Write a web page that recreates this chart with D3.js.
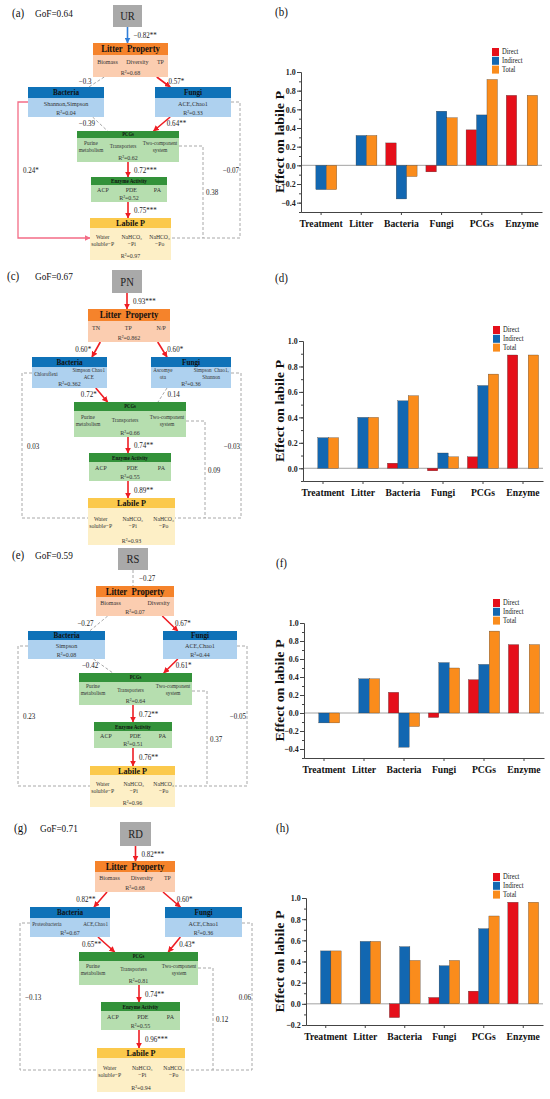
<!DOCTYPE html>
<html>
<head>
<meta charset="utf-8">
<script src="https://cdn.jsdelivr.net/npm/d3@7"></script>
<style>
  body { margin: 0; background: #fff; }
</style>
</head>
<body>
<div id="fig"></div>
<script>
// ---------- data ----------
var categories = ["Treatment", "Litter", "Bacteria", "Fungi", "PCGs", "Enzyme"];
var effectTypes = ["Direct", "Indirect", "Total"];

var directUR   = [0, 0, 0.24, -0.07, 0.38, 0.75];
var indirectUR = [-0.26, 0.32, -0.36, 0.58, 0.54, 0];
var totalUR    = [-0.26, 0.32, -0.12, 0.51, 0.92, 0.75];

var directPN   = [0, 0, 0.04, -0.02, 0.09, 0.89];
var indirectPN = [0.24, 0.40, 0.53, 0.12, 0.65, 0];
var totalPN    = [0.24, 0.40, 0.57, 0.09, 0.74, 0.89];

var directRS   = [0, 0, 0.23, -0.05, 0.37, 0.76];
var indirectRS = [-0.11, 0.38, -0.38, 0.56, 0.54, 0];
var totalRS    = [-0.11, 0.38, -0.15, 0.50, 0.91, 0.76];

var directRD   = [0, 0, -0.13, 0.06, 0.12, 0.96];
var indirectRD = [0.50, 0.59, 0.54, 0.36, 0.71, 0];
var totalRD    = [0.50, 0.59, 0.41, 0.41, 0.83, 0.96];

var treatments = ["UR", "PN", "RS", "RD"];
var gofValues = ["0.64", "0.67", "0.59", "0.71"];

// path coefficients, in order: treatment->litter, litter->bacteria, litter->fungi,
// bacteria->PCGs, fungi->PCGs, PCGs->enzyme, enzyme->labile P,
// bacteria->labile P, fungi->labile P, PCGs->labile P
var pathsUR = ["−0.82**", "−0.3", "0.57*", "−0.39", "0.64**", "0.72***", "0.75***", "0.24*", "−0.07", "0.38"];
var pathsPN = ["0.93***", "0.60*", "0.60*", "0.72*", "0.14", "0.74**", "0.89**", "0.03", "−0.03", "0.09"];
var pathsRS = ["−0.27", "−0.27", "0.67*", "−0.42", "0.61*", "0.72**", "0.76**", "0.23", "−0.05", "0.37"];
var pathsRD = ["0.82***", "0.82**", "0.60*", "0.65**", "0.43*", "0.74**", "0.96***", "−0.13", "0.06", "0.12"];

// R2 of litter, bacteria, fungi, PCGs, enzyme, labile P
var r2UR = ["0.68", "0.04", "0.33", "0.62", "0.52", "0.97"];
var r2PN = ["0.862", "0.362", "0.36", "0.66", "0.55", "0.93"];
var r2RS = ["0.07", "0.08", "0.44", "0.64", "0.51", "0.96"];
var r2RD = ["0.68", "0.67", "0.36", "0.81", "0.55", "0.94"];

var litterItems = [["Biomass", "Diversity", "TP"], ["TN", "TP", "N/P"], ["Biomass", "Diversity"], ["Biomass", "Diversity", "TP"]];
var bacteriaItems = [["Shannon,Simpson"], ["Chloroflexi", "Simpson Chao1\nACE"], ["Simpson"], ["Proteobacteria", "ACE,Chao1"]];
var fungiItems = [["ACE,Chao1"], ["Ascomye\nota", "Simpson  Chao1,\nShannon"], ["ACE,Chao1"], ["ACE,Chao1"]];
var pcgItems = ["Purine\nmetabolism", "Transporters", "Two-component\nsystem"];
var enzymeItems = ["ACP", "PDE", "PA"];
var labileItems = ["Water\nsoluble−P", "NaHCO₃\n−Pi", "NaHCO₃\n−Po"];

// ---------- layout ----------
var diagramTags = ["a", "c", "e", "g"];
var barTags = ["b", "d", "f", "h"];

// boxes: [x, y, width, headerHeight, bodyHeight]; treat: [x, y, w, h]
var diagramLayouts = [
  { tag: [12, 17], gof: [35, 16.5], treat: [113, 5, 29, 22], litter: [93, 43, 75, 12, 22],
    bact: [28, 87, 76, 11, 19], fungi: [155, 87, 76, 11, 19], pcg: [77, 131, 102, 7, 24],
    enz: [91, 177, 76, 8, 17], lab: [90, 218, 81, 10, 32], cx: 128,
    leftX: 18, rightX: 240, pcgX: 203, bottomY: 238, sideY: 102, pcgY: 146 },
  { tag: [7, 280], gof: [35, 279.5], treat: [112, 270, 30, 23], litter: [88, 309, 82, 12, 21],
    bact: [32, 357, 75, 10, 21], fungi: [151, 357, 80, 10, 21], pcg: [74, 402, 112, 9, 26],
    enz: [89, 453, 82, 9, 19], lab: [88, 498, 87, 10, 37], cx: 128,
    leftX: 22, rightX: 241, pcgX: 205, bottomY: 518, sideY: 373, pcgY: 421 },
  { tag: [12, 559], gof: [35, 558.5], treat: [118, 548, 30, 22], litter: [96, 586, 78, 11, 19],
    bact: [28, 631, 77, 9, 19], fungi: [163, 631, 74, 9, 19], pcg: [79, 673, 113, 9, 23],
    enz: [94, 722, 78, 9, 17], lab: [90, 766, 85, 9, 32], cx: 133,
    leftX: 18, rightX: 247, pcgX: 207, bottomY: 786, sideY: 646, pcgY: 691 },
  { tag: [14, 832], gof: [40, 831.5], treat: [120, 822, 31, 24], litter: [95, 861, 80, 11, 20],
    bact: [30, 907, 80, 11, 19], fungi: [165, 907, 77, 11, 19], pcg: [79, 952, 119, 9, 24],
    enz: [101, 1002, 79, 9, 19], lab: [97, 1048, 88, 10, 34], cx: 139,
    leftX: 20, rightX: 252, pcgX: 213, bottomY: 1070, sideY: 923, pcgY: 968 }
];

var barLayouts = [
  { left: 301, right: 542, top: 72, bottom: 212, yMin: -0.5, tag: [275, 16], legend: [492, 48] },
  { left: 303, right: 543, top: 341, bottom: 481, yMin: -0.1, tag: [275, 282], legend: [493, 326] },
  { left: 304, right: 544, top: 623, bottom: 758, yMin: -0.5, tag: [276, 567], legend: [493, 599] },
  { left: 306, right: 543, top: 898, bottom: 1025, yMin: -0.2, tag: [276, 832], legend: [493, 873] }
];

var barColors = ["#e50f1a", "#1267b1", "#fa8c1c"];
var SX = 0.88; // the source figure is squeezed horizontally

var svg = d3.select("#fig").append("svg")
  .attr("width", 550)
  .attr("height", 1099)
  .attr("font-family", "'Liberation Serif', 'Times New Roman', serif");

svg.append("rect").attr("width", 550).attr("height", 1099).attr("fill", "#fff");

var defs = svg.append("defs");
function marker(id, color) {
  defs.append("marker")
    .attr("id", id)
    .attr("viewBox", "0 0 10 10")
    .attr("refX", 9).attr("refY", 5)
    .attr("markerWidth", 6).attr("markerHeight", 6)
    .attr("markerUnits", "userSpaceOnUse")
    .attr("orient", "auto")
    .append("path").attr("d", "M0,0L10,5L0,10z").attr("fill", color);
}
marker("head-red", "#ee1d23");
marker("head-blue", "#2f7ed8");
marker("head-pink", "#f36c86");

function addText(g, x, y, str, size, opt) {
  opt = opt || {};
  return g.append("text")
    .attr("transform", "translate(" + x + "," + y + ")" +
      (opt.rotate ? " rotate(-90) scale(1," + SX + ")" : " scale(" + SX + ",1)"))
    .attr("font-size", size)
    .attr("text-anchor", opt.anchor || "start")
    .attr("font-weight", opt.bold ? "bold" : null)
    .attr("fill", opt.color || "#111")
    .style("white-space", "pre")
    .text(str);
}

// body items spread across the box like justified text
function bodyItems(g, b, items, pad, size) {
  var top = b.y + b.hh, bottom = top + b.bh;
  var center = (top + bottom - 8) / 2;
  var parts = items.map(function(s) {
    var lines = s.split("\n");
    var t = g.append("text")
      .attr("font-size", size)
      .attr("text-anchor", "middle")
      .attr("fill", "#333")
      .style("white-space", "pre");
    lines.forEach(function(l, i) {
      t.append("tspan").attr("x", 0)
        .attr("y", center + size * 0.35 + (i - (lines.length - 1) / 2) * 7)
        .text(l);
    });
    return { t: t, w: t.node().getBBox().width * SX };
  });
  if (parts.length === 1) {
    parts[0].t.attr("transform", "translate(" + (b.x + b.w / 2) + ",0) scale(" + SX + ",1)");
    return;
  }
  var total = d3.sum(parts, function(p) { return p.w; });
  var gap = (b.w - 2 * pad - total) / (parts.length - 1);
  var cursor = b.x + pad;
  parts.forEach(function(p) {
    p.t.attr("transform", "translate(" + (cursor + p.w / 2) + ",0) scale(" + SX + ",1)");
    cursor += p.w + gap;
  });
}

function drawBox(g, b, title, titleSize, headFill, bodyFill, items, r2, pad, itemSize) {
  g.append("rect").attr("x", b.x).attr("y", b.y + b.hh).attr("width", b.w).attr("height", b.bh).attr("fill", bodyFill);
  g.append("rect").attr("x", b.x).attr("y", b.y).attr("width", b.w).attr("height", b.hh).attr("fill", headFill);
  addText(g, b.x + b.w / 2, b.y + b.hh / 2 + titleSize * 0.35, title, titleSize, { anchor: "middle", bold: true });
  bodyItems(g, b, items, pad, itemSize);
  addText(g, b.x + b.w / 2, b.y + b.hh + b.bh - 2, "R²=" + r2, 6.8, { anchor: "middle", color: "#333" });
}

function pathStyle(label, isLong) {
  if (label.indexOf("*") < 0) return { color: "#a8a8a8", width: 1, dash: "3,2", head: null };
  if (isLong) return { color: "#f36c86", width: 1.3, dash: null, head: "head-pink" };
  if (label.charAt(0) === "−") return { color: "#2f7ed8", width: 1.6, dash: null, head: "head-blue" };
  return { color: "#ee1d23", width: 1.6, dash: null, head: "head-red" };
}

function drawDiagram(k, paths, r2) {
  var L = diagramLayouts[k];
  var g = svg.append("g");
  function bx(a) { return { x: a[0], y: a[1], w: a[2], hh: a[3], bh: a[4] }; }
  var Li = bx(L.litter), Ba = bx(L.bact), Fu = bx(L.fungi), Pc = bx(L.pcg), En = bx(L.enz), La = bx(L.lab);
  var T = { x: L.treat[0], y: L.treat[1], w: L.treat[2], h: L.treat[3] };
  function bot(b) { return b.y + b.hh + b.bh; }
  var tcx = T.x + T.w / 2;

  var geo = [
    [[tcx, T.y + T.h], [tcx, Li.y]],
    [[Li.x + 0.15 * Li.w, bot(Li)], [Ba.x + 0.8 * Ba.w, Ba.y]],
    [[Li.x + 0.85 * Li.w, bot(Li)], [Fu.x + 0.2 * Fu.w, Fu.y]],
    [[Ba.x + 0.85 * Ba.w, bot(Ba)], [Pc.x + 0.3 * Pc.w, Pc.y]],
    [[Fu.x + 0.2 * Fu.w, bot(Fu)], [Pc.x + 0.75 * Pc.w, Pc.y]],
    [[L.cx, bot(Pc)], [L.cx, En.y]],
    [[L.cx, bot(En)], [L.cx, La.y]],
    [[Ba.x, L.sideY], [L.leftX, L.sideY], [L.leftX, L.bottomY], [La.x, L.bottomY]],
    [[Fu.x + Fu.w, L.sideY], [L.rightX, L.sideY], [L.rightX, L.bottomY], [La.x + La.w, L.bottomY]],
    [[Pc.x + Pc.w, L.pcgY], [L.pcgX, L.pcgY], [L.pcgX, L.bottomY]]
  ];

  var line = d3.line();
  geo.forEach(function(pts, i) {
    var st = pathStyle(paths[i], i >= 7);
    g.append("path")
      .attr("d", line(pts))
      .attr("fill", "none")
      .attr("stroke", st.color)
      .attr("stroke-width", st.width)
      .attr("stroke-dasharray", st.dash)
      .attr("marker-end", st.head && !(i === 9) ? "url(#" + st.head + ")" : null);
  });

  // path coefficient labels
  function mid(pts) { return [(pts[0][0] + pts[1][0]) / 2, (pts[0][1] + pts[1][1]) / 2]; }
  var lp = [];
  [0, 5, 6].forEach(function(i) { var m = mid(geo[i]); lp[i] = [geo[i][0][0] + 6, m[1] + 3, "start"]; });
  [1, 3].forEach(function(i) { var m = mid(geo[i]); lp[i] = [m[0] - 5, m[1] + 2, "end"]; });
  [2, 4].forEach(function(i) { var m = mid(geo[i]); lp[i] = [m[0] + 5, m[1] + 2, "start"]; });
  lp[7] = [L.leftX + 5, (L.sideY + L.bottomY) / 2 + 3, "start"];
  lp[8] = [L.rightX - 1, (L.sideY + L.bottomY) / 2 + 3, "end"];
  lp[9] = [L.pcgX + 3, (L.pcgY + L.bottomY) / 2 + 3, "start"];
  paths.forEach(function(p, i) {
    addText(g, lp[i][0], lp[i][1], p, 8, { anchor: lp[i][2], color: "#222" });
  });

  // panel tag and GoF
  addText(g, L.tag[0], L.tag[1], "(" + diagramTags[k] + ")", 12.5);
  addText(g, L.gof[0], L.gof[1], "GoF=" + gofValues[k], 10.5);

  // treatment box
  g.append("rect").attr("x", T.x).attr("y", T.y).attr("width", T.w).attr("height", T.h).attr("fill", "#a9a9a9");
  addText(g, tcx, T.y + T.h / 2 + 4.2, treatments[k], 12, { anchor: "middle", color: "#222" });

  var bSize = function(items) { return items.length > 1 ? 5.8 : 7; };
  drawBox(g, Li, "Litter\u00a0 Property", 9.8, "#f5832b", "#fbcdb0", litterItems[k], r2[0], 4, 6.8);
  drawBox(g, Ba, "Bacteria", 8.2, "#0f72b8", "#aed1ef", bacteriaItems[k], r2[1], 2, bSize(bacteriaItems[k]));
  drawBox(g, Fu, "Fungi", 8.2, "#0f72b8", "#aed1ef", fungiItems[k], r2[2], 2, bSize(fungiItems[k]));
  drawBox(g, Pc, "PCGs", 5.2, "#33923a", "#b6deaf", pcgItems, r2[3], 1.5, 6);
  drawBox(g, En, "Enzyme Activity", 5.8, "#33923a", "#b6deaf", enzymeItems, r2[4], 6, 6.8);
  drawBox(g, La, "Labile P", 9.2, "#fbc94c", "#fdefc6", labileItems, r2[5], 1, 6.5);
}

function styleAxis(sel) {
  sel.attr("font-family", null);
  sel.select(".domain").attr("stroke", "#444");
  sel.selectAll(".tick line").attr("stroke", "#444");
}

function drawBars(k, values) {
  var L = barLayouts[k];
  var g = svg.append("g");

  var x = d3.scaleBand().domain(categories).range([L.left, L.right]).paddingInner(0.22).paddingOuter(0.11);
  var xs = d3.scaleBand().domain(effectTypes).range([0, x.bandwidth()]);
  var y = d3.scaleLinear().domain([L.yMin, 1.0]).range([L.bottom, L.top]);
  var color = d3.scaleOrdinal().domain(effectTypes).range(barColors);

  var rows = [];
  categories.forEach(function(c, i) {
    effectTypes.forEach(function(e, j) {
      rows.push({ cat: c, type: e, v: values[j][i] });
    });
  });

  g.append("line")
    .attr("x1", L.left).attr("x2", L.right)
    .attr("y1", y(0)).attr("y2", y(0))
    .attr("stroke", "#8a8a8a").attr("stroke-width", 0.8);

  g.selectAll("rect.bar")
    .data(rows.filter(function(d) { return d.v !== 0; }))
    .enter().append("rect")
    .attr("class", "bar")
    .attr("x", function(d) { return x(d.cat) + xs(d.type); })
    .attr("width", xs.bandwidth())
    .attr("y", function(d) { return y(Math.max(0, d.v)); })
    .attr("height", function(d) { return Math.abs(y(d.v) - y(0)); })
    .attr("fill", function(d) { return color(d.type); })
    .attr("stroke", "#333")
    .attr("stroke-width", 0.3);

  var major = d3.range(Math.ceil(L.yMin * 5 - 1e-9), 6).map(function(v) { return v / 5; });
  var minor = d3.range(Math.round(L.yMin * 10), 11).map(function(v) { return v / 10; });

  g.append("g")
    .attr("transform", "translate(" + L.left + ",0)")
    .call(d3.axisLeft(y).tickValues(minor).tickSize(2).tickSizeOuter(0).tickFormat(""))
    .call(styleAxis);

  var ya = g.append("g")
    .attr("transform", "translate(" + L.left + ",0)")
    .call(d3.axisLeft(y).tickValues(major).tickSize(4).tickSizeOuter(0).tickPadding(2).tickFormat(d3.format(".1f")))
    .call(styleAxis);
  ya.selectAll("text")
    .attr("font-size", 9).attr("font-weight", "bold").attr("fill", "#222")
    .attr("transform", "scale(" + SX + ",1)");

  var xa = g.append("g")
    .attr("transform", "translate(0," + L.bottom + ")")
    .call(d3.axisBottom(x).tickSize(3).tickSizeOuter(0).tickPadding(4))
    .call(styleAxis);
  xa.selectAll("text")
    .attr("font-size", 11).attr("font-weight", "bold").attr("fill", "#111")
    .attr("transform", "scale(" + SX + ",1)");

  addText(g, 284, (L.top + L.bottom) / 2, "Effect on labile P", 14, { rotate: true, anchor: "middle", bold: true });
  addText(g, L.tag[0], L.tag[1], "(" + barTags[k] + ")", 12.5);

  // legend
  effectTypes.forEach(function(e, i) {
    g.append("rect")
      .attr("x", L.legend[0]).attr("y", L.legend[1] + i * 8.8)
      .attr("width", 7).attr("height", 8)
      .attr("fill", color(e));
    addText(g, L.legend[0] + 10, L.legend[1] + i * 8.8 + 6.3, e, 7.5, { color: "#222" });
  });
}

drawDiagram(0, pathsUR, r2UR);
drawDiagram(1, pathsPN, r2PN);
drawDiagram(2, pathsRS, r2RS);
drawDiagram(3, pathsRD, r2RD);

drawBars(0, [directUR, indirectUR, totalUR]);
drawBars(1, [directPN, indirectPN, totalPN]);
drawBars(2, [directRS, indirectRS, totalRS]);
drawBars(3, [directRD, indirectRD, totalRD]);
</script>
</body>
</html>
